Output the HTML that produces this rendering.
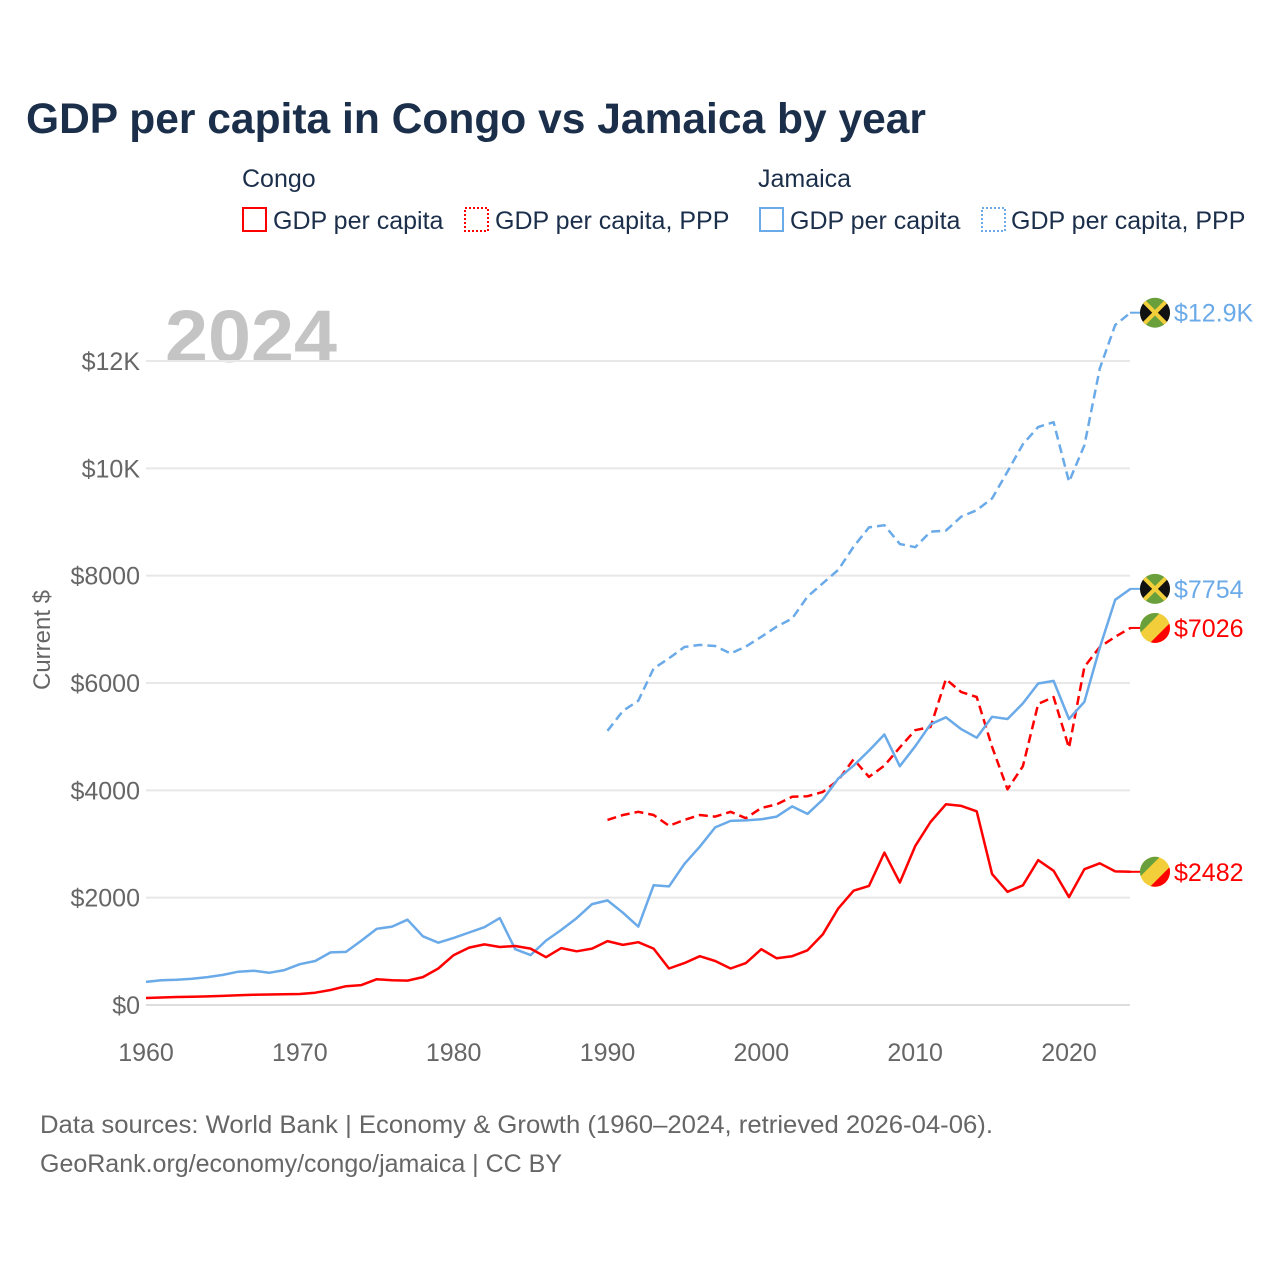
<!DOCTYPE html>
<html><head><meta charset="utf-8">
<style>
html,body{margin:0;padding:0;background:#fff;}
svg{display:block;font-family:"Liberation Sans",sans-serif;}
</style></head>
<body>
<svg id="chart" width="1280" height="1280" viewBox="0 0 1280 1280" xmlns="http://www.w3.org/2000/svg">
<defs id="defs"></defs>
<text x="26" y="133" font-size="43" font-weight="bold" fill="#1b2f4b" textLength="900" lengthAdjust="spacingAndGlyphs">GDP per capita in Congo vs Jamaica by year</text>
<g font-size="25" fill="#1b2f4b">
<text x="242" y="187">Congo</text>
<text x="758" y="187">Jamaica</text>
<g><rect x="243" y="208" width="23" height="23" fill="none" stroke="#f00" stroke-width="2"/><text x="273" y="229">GDP per capita</text></g>
<g><rect x="465" y="208" width="23" height="23" fill="none" stroke="#f00" stroke-width="2" stroke-dasharray="2,2"/><text x="495" y="229">GDP per capita, PPP</text></g>
<g><rect x="760" y="208" width="23" height="23" fill="none" stroke="#6aaae8" stroke-width="2"/><text x="790" y="229">GDP per capita</text></g>
<g><rect x="982" y="208" width="23" height="23" fill="none" stroke="#6aaae8" stroke-width="2" stroke-dasharray="2,2"/><text x="1011" y="229">GDP per capita, PPP</text></g>
</g>
<text x="165" y="362" font-size="74" font-weight="bold" fill="#c4c4c4" textLength="172" lengthAdjust="spacingAndGlyphs">2024</text>
<g id="grid"></g>
<g id="axes"></g>
<g id="series"></g>
<g id="markers"></g>
<text transform="translate(50,640) rotate(-90)" text-anchor="middle" font-size="24" fill="#666">Current $</text>
<text x="40" y="1133" font-size="25" fill="#666" textLength="953" lengthAdjust="spacingAndGlyphs">Data sources: World Bank | Economy &amp; Growth (1960–2024, retrieved 2026-04-06).</text>
<text x="40" y="1172" font-size="25" fill="#666">GeoRank.org/economy/congo/jamaica | CC BY</text>
</svg>
<script>
const yTicks=[0,2000,4000,6000,8000,10000,12000];
const yTickLabels=["$0","$2000","$4000","$6000","$8000","$10K","$12K"];
const xTicks=[1960,1970,1980,1990,2000,2010,2020];
const years=[1960,1961,1962,1963,1964,1965,1966,1967,1968,1969,1970,1971,1972,1973,1974,1975,1976,1977,1978,1979,1980,1981,1982,1983,1984,1985,1986,1987,1988,1989,1990,1991,1992,1993,1994,1995,1996,1997,1998,1999,2000,2001,2002,2003,2004,2005,2006,2007,2008,2009,2010,2011,2012,2013,2014,2015,2016,2017,2018,2019,2020,2021,2022,2023,2024];
const congoGdp=[130,140,150,155,160,170,180,190,195,200,205,230,280,350,370,480,460,455,520,680,930,1070,1130,1080,1100,1050,890,1060,1000,1050,1190,1120,1170,1050,680,780,910,820,680,780,1040,870,910,1020,1320,1800,2130,2220,2840,2280,2960,3410,3740,3710,3610,2440,2110,2230,2700,2500,2010,2530,2640,2490,2482];
const jamaicaGdp=[430,460,470,490,520,560,620,640,600,650,760,820,980,990,1200,1420,1460,1590,1280,1160,1250,1350,1450,1620,1040,930,1200,1400,1620,1880,1950,1720,1460,2230,2210,2630,2950,3310,3430,3440,3460,3510,3700,3560,3830,4220,4460,4740,5040,4450,4820,5230,5360,5140,4980,5370,5330,5620,5990,6040,5330,5650,6660,7550,7754];
const pppYears=[1990,1991,1992,1993,1994,1995,1996,1997,1998,1999,2000,2001,2002,2003,2004,2005,2006,2007,2008,2009,2010,2011,2012,2013,2014,2015,2016,2017,2018,2019,2020,2021,2022,2023,2024];
const congoPpp=[3450,3540,3600,3540,3340,3450,3540,3510,3600,3480,3670,3740,3880,3890,3970,4190,4580,4250,4460,4800,5120,5180,6070,5830,5740,4810,4020,4450,5610,5740,4790,6300,6670,6860,7026];
const jamaicaPpp=[5110,5480,5670,6270,6460,6670,6710,6690,6550,6680,6860,7050,7200,7610,7860,8110,8540,8900,8940,8590,8530,8820,8840,9100,9220,9440,9940,10450,10770,10860,9750,10430,11860,12670,12900];
const endLabels=["$12.9K","$7754","$7026","$2482"];

const NS="http://www.w3.org/2000/svg";
const X=yr=>146+(yr-1960)*(923/60);
const Y=v=>1005-v*(644/12000);
function mk(tag,attrs,parent){const e=document.createElementNS(NS,tag);for(const k in attrs)e.setAttribute(k,attrs[k]);parent.appendChild(e);return e;}
const defs=document.getElementById('defs'),grid=document.getElementById('grid'),axes=document.getElementById('axes'),series=document.getElementById('series'),markers=document.getElementById('markers');
yTicks.forEach((t,i)=>{
  const l=mk('line',{x1:146,x2:1130,y1:Y(t),y2:Y(t),stroke:t===0?'#ddd':'#e8e8e8','stroke-width':2},grid);
  
  
  const tx=mk('text',{x:140,y:Y(t)+9,'text-anchor':'end','font-size':25,fill:'#666'},axes);
  tx.textContent=yTickLabels[i];
  
  
});
xTicks.forEach(t=>{
  const tx=mk('text',{x:X(t),y:1061,'text-anchor':'middle','font-size':25,fill:'#666'},axes);
  tx.textContent=String(t);
  
  
});
function line(xs,vals,color,dash,name){
  const d=vals.map((v,i)=>(i?'L':'M')+X(xs[i]).toFixed(1)+','+Y(v).toFixed(1)).join(' ');
  const p=mk('path',{d:d,fill:'none',stroke:color,'stroke-width':2.5,'stroke-linejoin':'round'},series);
  if(dash)p.setAttribute('stroke-dasharray',dash);
  
  
}
line(pppYears,jamaicaPpp,'#6aaae8','9,5','line-jamaica-gdp-ppp');
line(pppYears,congoPpp,'#f00','9,5','line-congo-gdp-ppp');
line(years,jamaicaGdp,'#6aaae8',null,'line-jamaica-gdp');
line(years,congoGdp,'#f00',null,'line-congo-gdp');

let cid=0;
function clipG(cx,cy,g){
  const id='fc'+(cid++);
  const cp=mk('clipPath',{id:id},defs);
  mk('circle',{cx:cx,cy:cy,r:15},cp);
  return mk('g',{'clip-path':'url(#'+id+')'},g);
}
function jamFlag(cx,cy,g){
  const c=clipG(cx,cy,g);
  mk('rect',{x:cx-16,y:cy-16,width:32,height:32,fill:'#6aa03c'},c);
  mk('path',{d:`M${cx-16},${cy-16} L${cx},${cy} L${cx-16},${cy+16} Z`,fill:'#111'},c);
  mk('path',{d:`M${cx+16},${cy-16} L${cx},${cy} L${cx+16},${cy+16} Z`,fill:'#111'},c);
  mk('line',{x1:cx-16,y1:cy-16,x2:cx+16,y2:cy+16,stroke:'#f2cf3a','stroke-width':4},c);
  mk('line',{x1:cx+16,y1:cy-16,x2:cx-16,y2:cy+16,stroke:'#f2cf3a','stroke-width':4},c);
}
function congoFlag(cx,cy,g){
  const c=clipG(cx,cy,g);
  mk('rect',{x:cx-16,y:cy-16,width:32,height:32,fill:'#f2cf3a'},c);
  mk('path',{d:`M${cx-16},${cy-16} L${cx+6},${cy-16} L${cx-16},${cy+6} Z`,fill:'#6aa03c'},c);
  mk('path',{d:`M${cx+16},${cy+16} L${cx-6},${cy+16} L${cx+16},${cy-6} Z`,fill:'#f00'},c);
}
const ends=[[jamaicaPpp[jamaicaPpp.length-1],'#6aaae8','jam',endLabels[0],'end-label-jamaica-ppp'],
            [jamaicaGdp[jamaicaGdp.length-1],'#6aaae8','jam',endLabels[1],'end-label-jamaica-gdp'],
            [congoPpp[congoPpp.length-1],'#f00','congo',endLabels[2],'end-label-congo-ppp'],
            [congoGdp[congoGdp.length-1],'#f00','congo',endLabels[3],'end-label-congo-gdp']];
ends.forEach(e=>{
  const y=Y(e[0]);
  const g=mk('g',{},markers);
  
  
  mk('line',{x1:1130,x2:1142,y1:y,y2:y,stroke:e[1],'stroke-width':2},g);
  if(e[2]==='jam')jamFlag(1155,y,g);else congoFlag(1155,y,g);
  const t=mk('text',{x:1174,y:y+9,'font-size':25,fill:e[1]},g);
  t.textContent=e[3];
});
</script>
</body></html>
